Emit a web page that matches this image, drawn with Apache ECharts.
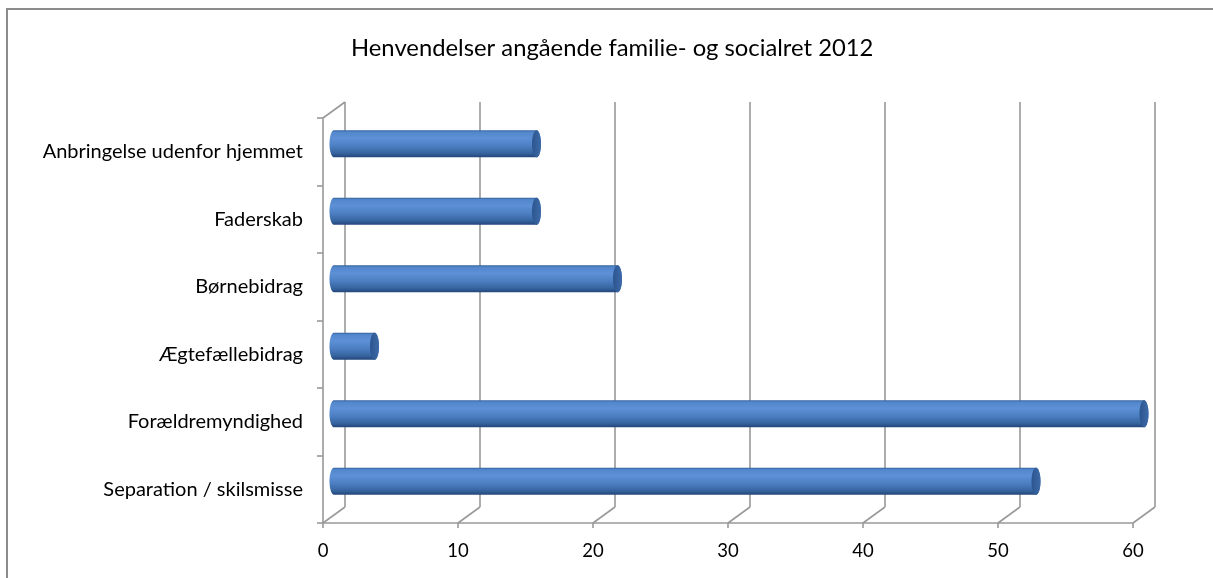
<!DOCTYPE html>
<html>
<head>
<meta charset="utf-8">
<script src="https://cdn.jsdelivr.net/npm/echarts@6/dist/echarts.min.js"></script>
<style>
html,body{margin:0;padding:0;background:#fff;}
#chart{width:1213px;height:578px;}
</style>
</head>
<body>
<div id="chart"></div>
<script>
const title = 'Henvendelser angående familie- og socialret 2012';
const categories = ['Anbringelse udenfor hjemmet', 'Faderskab', 'Børnebidrag', 'Ægtefællebidrag', 'Forældremyndighed', 'Separation / skilsmisse'];
const values = [15, 15, 21, 3, 60, 52];
const xTicks = [0, 10, 20, 30, 40, 50, 60];

const FONT = 'Lato';
const GRID_COLOR = '#999999';
const DEPTH_X = 22, DEPTH_Y = -16;
const BAR_DX = 11, BAR_DY = -8;

const chart = echarts.init(document.getElementById('chart'), null, {renderer: 'canvas'});

function ellipsePts(cx, cy, rx, ry, a0, a1, n) {
  const pts = [];
  for (let k = 0; k <= n; k++) {
    const t = a0 + (a1 - a0) * k / n;
    pts.push([cx + rx * Math.cos(t), cy + ry * Math.sin(t)]);
  }
  return pts;
}

function renderBar(params, api) {
  const v = api.value(0), i = api.value(1);
  const p0 = api.coord([0, i]);
  const p1 = api.coord([v, i]);
  const band = api.size([0, 1])[1];
  const h = band * 0.4;
  const ry = h / 2, rx = h / 6;
  const cy = p0[1] + BAR_DY;
  const x0 = p0[0] + BAR_DX, x1 = p1[0] + BAR_DX;
  const body = [].concat(
    ellipsePts(x1, cy, rx, ry, -Math.PI / 2, Math.PI / 2, 24),
    ellipsePts(x0, cy, rx, ry, Math.PI / 2, Math.PI * 1.5, 24)
  );
  const cap = ellipsePts(x1, cy, rx, ry, 0, Math.PI * 2, 48);
  return {
    type: 'group',
    children: [
      {
        type: 'polygon',
        shape: {points: body},
        style: {
          fill: new echarts.graphic.LinearGradient(0, 0, 0, 1, [
            {offset: 0, color: '#34609c'},
            {offset: 0.07, color: '#5387cc'},
            {offset: 0.3, color: '#5d90d6'},
            {offset: 0.6, color: '#4b7dc0'},
            {offset: 0.85, color: '#36649f'},
            {offset: 1, color: '#23467a'}
          ]),
          stroke: null
        }
      },
      {
        type: 'polygon',
        shape: {points: cap},
        style: {
          fill: new echarts.graphic.LinearGradient(0, 0, 1, 0, [
            {offset: 0, color: '#2c558e'},
            {offset: 1, color: '#3d6aa8'}
          ]),
          stroke: null
        }
      }
    ]
  };
}

function renderDiag(params, api) {
  const v = api.value(0);
  const cs = params.coordSys;
  const x = api.coord([v, 0])[0];
  const bottom = cs.y + cs.height;
  const children = [{
    type: 'line',
    shape: {x1: x, y1: bottom, x2: x + DEPTH_X, y2: bottom + DEPTH_Y},
    style: {stroke: GRID_COLOR, lineWidth: 1.6}
  }];
  if (params.dataIndex === 0) {
    children.push({
      type: 'line',
      shape: {x1: cs.x, y1: cs.y, x2: cs.x + DEPTH_X, y2: cs.y + DEPTH_Y},
      style: {stroke: GRID_COLOR, lineWidth: 1.6}
    });
  }
  return {type: 'group', children: children};
}

const option = {
  backgroundColor: '#ffffff',
  animation: false,
  title: {
    text: title,
    left: 346,
    top: 31,
    textStyle: {fontFamily: FONT, fontSize: 23.8, fontWeight: 'normal', color: '#000'}
  },
  graphic: [{
    type: 'rect',
    shape: {x: 7, y: 9, width: 1400, height: 800},
    style: {fill: null, stroke: '#8c8c8c', lineWidth: 2},
    silent: true,
    z: -10
  }],
  grid: [
    {left: 323, top: 118, width: 810, height: 405, containLabel: false},
    {left: 323 + DEPTH_X, top: 118 + DEPTH_Y, width: 810, height: 405, containLabel: false}
  ],
  xAxis: [
    {
      type: 'value', gridIndex: 0, min: 0, max: 60, interval: 10,
      axisLine: {show: true, lineStyle: {color: GRID_COLOR, width: 1.6}},
      axisTick: {show: true, length: 5, lineStyle: {color: GRID_COLOR, width: 1.6}},
      axisLabel: {fontFamily: FONT, fontSize: 18.5, color: '#000', margin: 19},
      splitLine: {show: false}
    },
    {
      type: 'value', gridIndex: 1, min: 0, max: 60, interval: 10,
      axisLine: {show: false}, axisTick: {show: false}, axisLabel: {show: false},
      splitLine: {show: true, lineStyle: {color: GRID_COLOR, width: 1.6}}
    }
  ],
  yAxis: [
    {
      type: 'category', gridIndex: 0, data: categories, inverse: true,
      axisLine: {show: true, lineStyle: {color: GRID_COLOR, width: 1.6}},
      axisTick: {show: true, length: 6, lineStyle: {color: GRID_COLOR, width: 1.6}},
      axisLabel: {fontFamily: FONT, fontSize: 20, color: '#000', margin: 20},
      splitLine: {show: false}
    },
    {
      type: 'category', gridIndex: 1, data: categories, inverse: true,
      axisLine: {show: false}, axisTick: {show: false}, axisLabel: {show: false},
      splitLine: {show: false}
    }
  ],
  series: [
    {
      type: 'custom', xAxisIndex: 0, yAxisIndex: 0,
      data: xTicks.map(v => [v, 0]),
      renderItem: renderDiag,
      silent: true, z: 1
    },
    {
      type: 'custom', xAxisIndex: 0, yAxisIndex: 0,
      data: values.map((v, i) => [v, i]),
      encode: {x: 0, y: 1},
      renderItem: renderBar,
      z: 5
    }
  ]
};
chart.setOption(option);
</script>
</body>
</html>
